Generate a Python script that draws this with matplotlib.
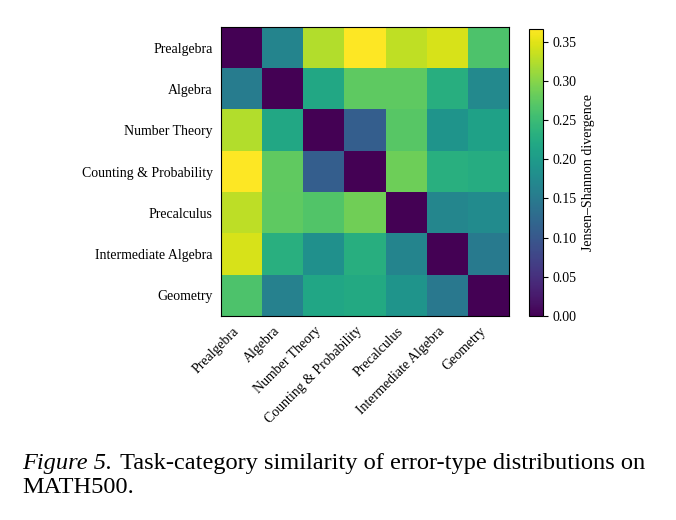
import matplotlib
matplotlib.use("Agg")
import matplotlib.pyplot as plt
import numpy as np

plt.rcParams['font.family'] = ['Liberation Serif', 'DejaVu Serif']

categories = ["Prealgebra", "Algebra", "Number Theory", "Counting & Probability",
              "Precalculus", "Intermediate Algebra", "Geometry"]

row_prealgebra = [0.000, 0.165, 0.324, 0.366, 0.331, 0.344, 0.264]
row_algebra = [0.154, 0.000, 0.220, 0.275, 0.275, 0.230, 0.172]
row_number_theory = [0.324, 0.220, 0.000, 0.110, 0.271, 0.190, 0.209]
row_counting = [0.366, 0.276, 0.110, 0.000, 0.285, 0.231, 0.227]
row_precalculus = [0.329, 0.275, 0.267, 0.287, 0.000, 0.168, 0.176]
row_intermediate = [0.344, 0.231, 0.183, 0.229, 0.165, 0.000, 0.150]
row_geometry = [0.264, 0.161, 0.216, 0.223, 0.190, 0.146, 0.000]

matrix = np.array([row_prealgebra, row_algebra, row_number_theory, row_counting,
                   row_precalculus, row_intermediate, row_geometry])

cbar_ticks = [0.00, 0.05, 0.10, 0.15, 0.20, 0.25, 0.30, 0.35]

fig = plt.figure(figsize=(6.76, 5.2), dpi=100)
ax = fig.add_axes([221/676, 1 - 316/520, 288/676, 289/520])
im = ax.imshow(matrix, cmap='viridis', vmin=0, vmax=matrix.max(), aspect='auto',
               interpolation='nearest')
ax.set_xticks(range(len(categories)))
ax.set_yticks(range(len(categories)))
ax.set_xticklabels(categories, rotation=45, ha='right', fontsize=10)
ax.set_yticklabels(categories, fontsize=10)
ax.tick_params(length=0, pad=6)
for s in ax.spines.values():
    s.set_linewidth(0.8)

cax = fig.add_axes([529/676, 1 - 316/520, 14/676, 287/520])
cb = fig.colorbar(im, cax=cax, ticks=cbar_ticks)
cb.ax.set_yticklabels([f"{t:.2f}" for t in cbar_ticks], fontsize=10)
cb.ax.tick_params(length=3.5, width=0.8)
cb.set_label("Jensen\u2013Shannon divergence", fontsize=10, labelpad=4)
cb.outline.set_linewidth(0.8)

cap_size = 17.6
t1 = fig.text(22/676, 1 - 469/520, "Figure 5.", fontsize=cap_size, style='italic',
              va='baseline')
fig.canvas.draw()
bb = t1.get_window_extent(renderer=fig.canvas.get_renderer())
x2 = (bb.x1 + 8) / fig.bbox.width
fig.text(x2, 1 - 469/520, "Task-category similarity of error-type distributions on",
         fontsize=cap_size, va='baseline')
fig.text(22/676, 1 - 493/520, "MATH500.", fontsize=cap_size, va='baseline')

fig.savefig("out.png", dpi=100)
